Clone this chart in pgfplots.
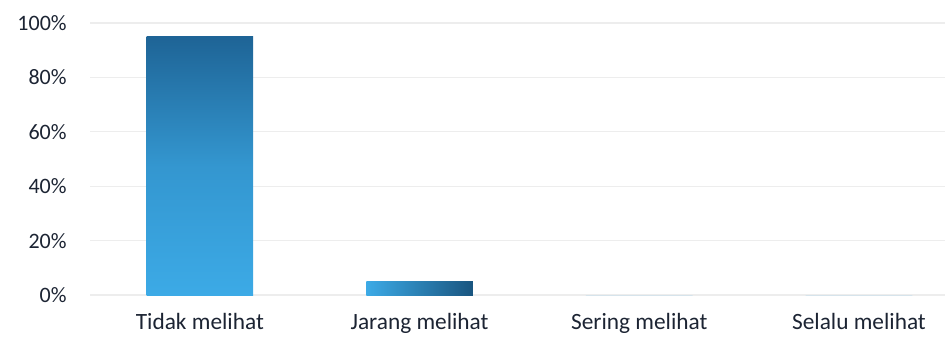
\documentclass[border=0pt]{standalone}
\usepackage{pgfplots}
\pgfplotsset{compat=1.18}
\usepackage{fontspec}
\setmainfont{Carlito}
\definecolor{txt}{HTML}{1C2433}
\definecolor{barlight}{HTML}{3CAAE6}
\definecolor{bardark}{HTML}{1E6496}
\begin{document}
\begin{tikzpicture}
\begin{axis}[
  scale only axis,
  width=641pt, height=204pt,
  xmin=-0.5, xmax=3.39,
  ymin=0, ymax=100,
  ytick={0,20,40,60,80,100},
  yticklabel={\pgfmathprintnumber{\tick}\%},
  /pgf/number format/assume math mode=true,
  xtick={0,1,2,3},
  xticklabels={Tidak melihat, Jarang melihat, Sering melihat, Selalu melihat},
  axis line style={draw=none},
  major tick length=0pt,
  ymajorgrids,
  grid style={draw=black!7, line width=0.8pt},
  yticklabel style={font=\fontsize{16.5}{18}\selectfont, text=txt, xshift=-14pt},
  xticklabel style={font=\fontsize{17.5}{20}\selectfont, text=txt, yshift=-10pt},
  clip=false,
]
\addplot[ybar, bar width=0.485, bar shift=0pt, draw=none, bottom color=barlight, top color=bardark, middle color=barlight!72!bardark] coordinates {(0,95)};
\addplot[ybar, bar width=0.485, bar shift=0pt, draw=none, left color=barlight, right color=bardark!85!black] coordinates {(1,5)};
\addplot[ybar, bar width=0.485, bar shift=0pt, draw=none, fill=barlight] coordinates {(2,0)};
\addplot[ybar, bar width=0.485, bar shift=0pt, draw=none, fill=barlight] coordinates {(3,0)};
\end{axis}
\pgfresetboundingbox
\path (current axis.south west) ++(-67.5pt,-33.75pt) rectangle ++(712.5pt,255pt);
\end{tikzpicture}
\end{document}
